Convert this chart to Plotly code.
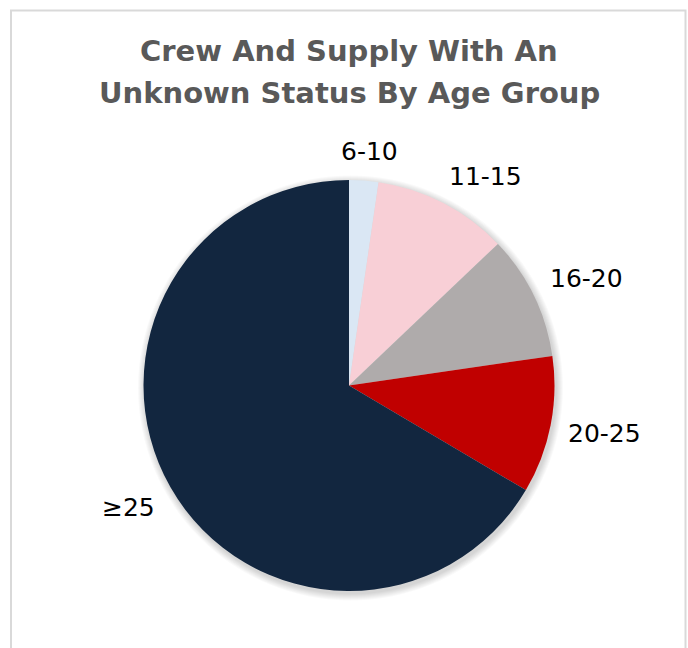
import math
import plotly.graph_objects as go

# Age groups and their share of crew/supply with an unknown status
age_groups = ["6-10", "11-15", "16-20", "20-25", "≥25"]
shares = [2.3, 10.6, 9.8, 10.8, 66.5]
slice_colors = ["#dae7f4", "#f8cfd6", "#afabab", "#c00000", "#12263f"]

title_lines = ["Crew And Supply With An", "Unknown Status By Age Group"]

W, H = 688, 648
# pie placement in pixels
cx, cy, r = 349, 385.5, 205.5
label_size = 25
label_gap = 18


def px_x(x):
    return x / W


def px_y(y):
    return 1 - y / H


def text_width(s, size):
    # rough advance widths for DejaVu Sans glyphs
    em = 0.0
    for ch in s:
        if ch == "-":
            em += 0.361
        elif ch.isdigit():
            em += 0.636
        else:
            em += 0.838
    return em * size


def clamp(v):
    return max(-1.0, min(1.0, v))


fig = go.Figure(
    go.Pie(
        labels=age_groups,
        values=shares,
        marker=dict(colors=slice_colors, line=dict(width=0)),
        sort=False,
        direction="clockwise",
        rotation=0,
        textinfo="none",
        hoverinfo="label+value",
        showlegend=False,
        domain=dict(x=[px_x(cx - r), px_x(cx + r)], y=[px_y(cy + r), px_y(cy - r)]),
    )
)

shapes = []
# soft drop shadow under the pie
for k in range(1, 8):
    rr = r + k
    shapes.append(dict(
        type="circle", xref="paper", yref="paper", layer="below",
        x0=px_x(cx + 1.5 - rr), x1=px_x(cx + 1.5 + rr),
        y0=px_y(cy + 2.5 + rr), y1=px_y(cy + 2.5 - rr),
        fillcolor="rgba(0,0,0,0.024)", line=dict(width=0),
    ))
# chart frame
shapes.append(dict(
    type="rect", xref="paper", yref="paper", layer="below",
    x0=px_x(11), x1=px_x(685.5), y0=-0.05, y1=px_y(10.5),
    line=dict(color="#d9d9d9", width=2), fillcolor="rgba(0,0,0,0)",
))

annotations = []
for text, yc in zip(title_lines, [51.5, 92.5]):
    annotations.append(dict(
        text=f"<b>{text}</b>", x=px_x(349), y=px_y(yc), xref="paper", yref="paper",
        xanchor="center", yanchor="middle", showarrow=False,
        font=dict(family="DejaVu Sans", size=29, color="#595959"),
    ))

# category labels placed just beyond the outer edge of each slice:
# the label box is pushed off an anchor point on the slice's mid-angle
total = sum(shares)
cum = 0.0
for name, v in zip(age_groups, shares):
    mid = (cum + v / 2) / total * 2 * math.pi
    cum += v
    ux, uy = math.sin(mid), -math.cos(mid)
    w = text_width(name, label_size)
    h = 22
    ax = cx + (r + label_gap) * ux + clamp(2 * ux) * w / 2
    ay = cy + (r + label_gap) * uy + clamp(2 * uy) * h / 2
    annotations.append(dict(
        text=name, x=px_x(ax), y=px_y(ay), xref="paper", yref="paper",
        xanchor="center", yanchor="middle", showarrow=False,
        font=dict(family="DejaVu Sans", size=label_size, color="#000000"),
    ))

fig.update_layout(
    width=W, height=H,
    margin=dict(l=0, r=0, t=0, b=0),
    paper_bgcolor="#ffffff",
    plot_bgcolor="#ffffff",
    shapes=shapes,
    annotations=annotations,
)

fig.write_html("out.html")
